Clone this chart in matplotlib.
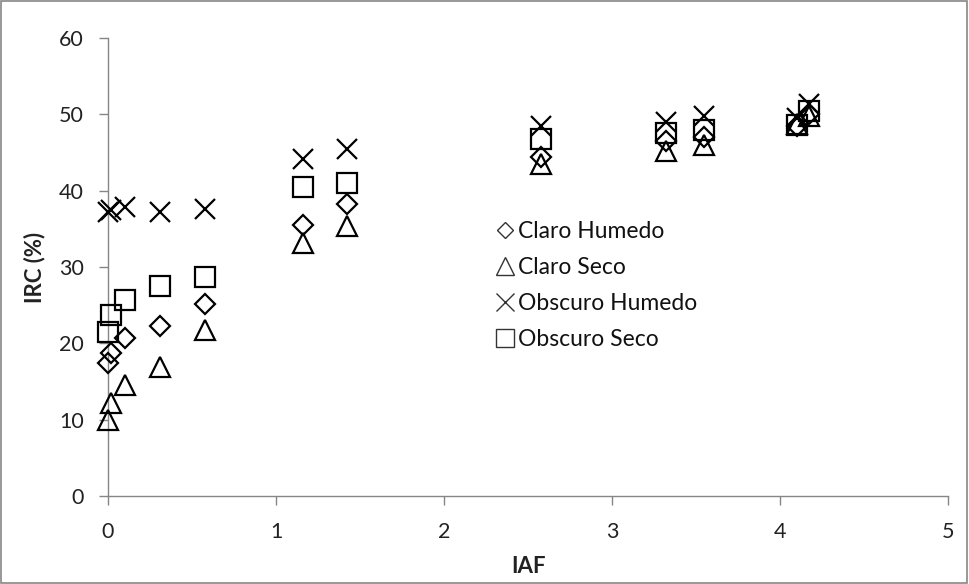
import matplotlib
matplotlib.use("Agg")
import matplotlib.pyplot as plt
from matplotlib.lines import Line2D
from matplotlib.patches import Rectangle

plt.rcParams['font.family'] = ['Lato', 'DejaVu Sans']

# Data
iaf = [0.0, 0.02, 0.1, 0.31, 0.58, 1.16, 1.42, 2.58, 3.32, 3.55, 4.1, 4.17]
claro_humedo = [17.4, 18.7, 20.7, 22.3, 25.1, 35.5, 38.2, 44.4, 46.5, 47.0, 48.5, 50.0]
claro_seco = [10.0, 12.2, 14.6, 16.9, 21.7, 33.2, 35.4, 43.5, 45.2, 46.0, 48.7, 49.8]
obscuro_humedo = [37.2, 37.5, 37.8, 37.2, 37.6, 44.2, 45.4, 48.5, 49.0, 49.8, 49.5, 51.4]
obscuro_seco = [21.5, 23.7, 25.7, 27.5, 28.7, 40.5, 41.0, 46.8, 47.5, 48.0, 48.6, 50.5]
labels = ["Claro Humedo", "Claro Seco", "Obscuro Humedo", "Obscuro Seco"]
x_ticks = [0, 1, 2, 3, 4, 5]
y_ticks = [0, 10, 20, 30, 40, 50, 60]

fig = plt.figure(figsize=(9.69, 5.84), dpi=100)
ax = fig.add_axes([0.1115, 0.1507, 0.8669, 0.7842])

series = [
    (claro_humedo, 'D', 10.5),
    (claro_seco, '^', 15),
    (obscuro_humedo, 'x', 15),
    (obscuro_seco, 's', 14),
]
for vals, m, ms in series:
    ax.plot(iaf, vals, linestyle='none', marker=m, markersize=ms,
            markerfacecolor='none', markeredgecolor='black',
            markeredgewidth=1.6, color='black', clip_on=False, zorder=3)

ax.set_xlim(0, 5)
ax.set_ylim(0, 60)
ax.set_xticks(x_ticks)
ax.set_yticks(y_ticks)
ax.set_xticklabels([str(t) for t in x_ticks])
ax.set_yticklabels([str(t) for t in y_ticks])

grey = '#868686'
for s in ['top', 'right']:
    ax.spines[s].set_visible(False)
for s in ['left', 'bottom']:
    ax.spines[s].set_color(grey)
    ax.spines[s].set_linewidth(1.0)
ax.tick_params(axis='both', direction='out', length=6.5, width=1, color=grey,
               labelsize=15.5, labelcolor='#222222')
ax.tick_params(axis='y', pad=11)
ax.tick_params(axis='x', pad=12)

ax.set_xlabel("IAF", fontsize=16, fontweight='bold', color='#222222', labelpad=10)
ax.set_ylabel("IRC (%)", fontsize=16, fontweight='bold', color='#222222', labelpad=10)

hc = '#333333'
handles = [
    Line2D([], [], linestyle='none', marker='D', markersize=8, markerfacecolor='none',
           markeredgecolor=hc, markeredgewidth=1.0),
    Line2D([], [], linestyle='none', marker='^', markersize=13, markerfacecolor='none',
           markeredgecolor=hc, markeredgewidth=1.0),
    Line2D([], [], linestyle='none', marker='x', markersize=13, markerfacecolor='none',
           markeredgecolor=hc, markeredgewidth=1.0),
    Line2D([], [], linestyle='none', marker='s', markersize=12.5, markerfacecolor='none',
           markeredgecolor=hc, markeredgewidth=1.0),
]
leg = ax.legend(handles, labels, loc='center left', bbox_to_anchor=(0.4595, 0.4596),
                frameon=False, fontsize=16.5, handlelength=1.0, handletextpad=0.05,
                labelspacing=0.66, borderaxespad=0, borderpad=0)
for t in leg.get_texts():
    t.set_color('#111111')

fig.add_artist(Rectangle((0.001, 0.001), 0.997, 0.997, transform=fig.transFigure,
                         fill=False, edgecolor=grey, linewidth=1.2))

fig.savefig("out.png", dpi=100)
